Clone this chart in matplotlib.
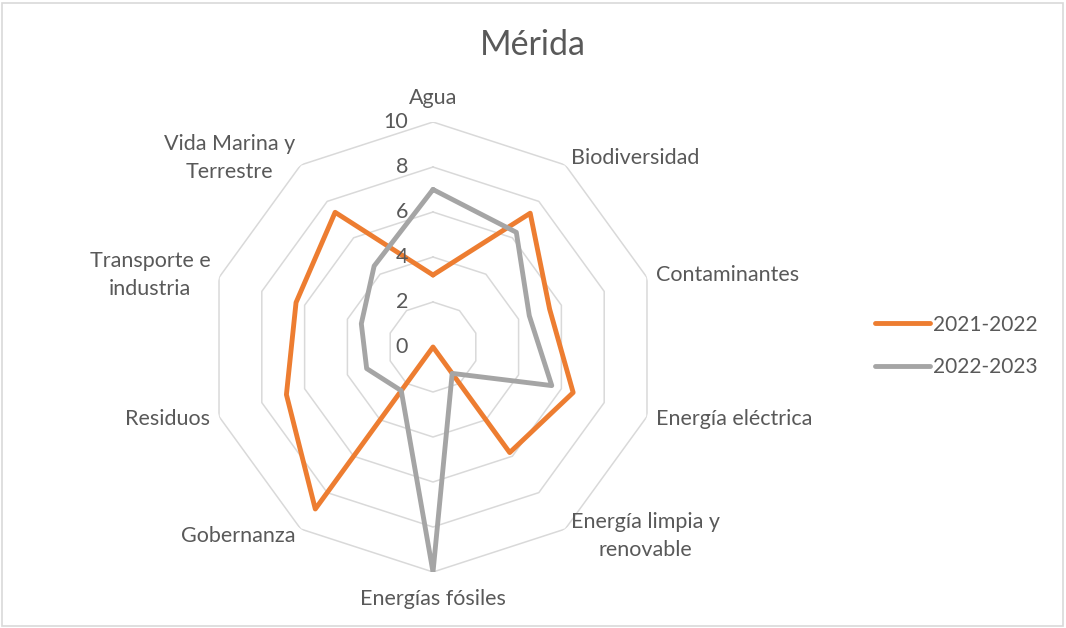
import numpy as np
import matplotlib
matplotlib.use("Agg")
import matplotlib.pyplot as plt
from matplotlib.lines import Line2D
from matplotlib.patches import Rectangle
import matplotlib.transforms as mtransforms

plt.rcParams['font.family'] = ['Lato', 'DejaVu Sans']

title = "Mérida"
categories = ["Agua", "Biodiversidad", "Contaminantes", "Energía eléctrica",
              "Energía limpia y\nrenovable", "Energías fósiles", "Gobernanza",
              "Residuos", "Transporte e\nindustria", "Vida Marina y\nTerrestre"]
series_names = ["2021-2022", "2022-2023"]
values_2021 = [3.2, 7.35, 5.45, 6.55, 5.8, 0.0, 8.9, 6.85, 6.4, 7.4]
values_2022 = [7.0, 6.3, 4.5, 5.55, 1.45, 10.0, 2.4, 3.1, 3.35, 4.45]
r_ticks = [0, 2, 4, 6, 8, 10]

ORANGE = "#ED7D31"
GRAY = "#A5A5A5"
TEXT = "#595959"
GRID = "#D9D9D9"
FS = 15.5

W, H = 1066, 628
fig = plt.figure(figsize=(W / 100, H / 100), dpi=100)
fig.patch.set_facecolor("white")

cx, cy, rad = 433, 347, 225
ax = fig.add_axes([(cx - rad) / W, 1 - (cy + rad) / H, 2 * rad / W, 2 * rad / H],
                  projection="polar")
ax.set_theta_zero_location("N")
ax.set_theta_direction(-1)
ax.set_ylim(0, 10)
ax.grid(False)
ax.set_xticks([])
ax.set_yticks([])
ax.spines["polar"].set_visible(False)
ax.patch.set_alpha(0)

n = len(categories)
theta = np.linspace(0, 2 * np.pi, n, endpoint=False)
theta_c = np.append(theta, theta[0])

# polygon grid rings
for v in r_ticks[1:]:
    ax.plot(theta_c, [v] * (n + 1), color=GRID, lw=1.1, zorder=1)

# series
for vals, col, name in [(values_2021, ORANGE, series_names[0]),
                        (values_2022, GRAY, series_names[1])]:
    vv = np.append(vals, vals[0])
    ax.plot(theta_c, vv, color=col, lw=3.5, solid_joinstyle="round",
            solid_capstyle="round", zorder=3, label=name)

# radial tick labels
off = mtransforms.offset_copy(ax.transData, fig=fig, x=-25, y=0, units="dots")
for v in r_ticks:
    ax.text(0, v, str(v), transform=off, ha="right", va="center",
            fontsize=FS, color=TEXT, zorder=4)

# category labels
for i, (t, lab) in enumerate(zip(theta, categories)):
    deg = np.degrees(t)
    if np.isclose(deg, 0):
        ax.text(t, 10.62, lab, ha="center", va="bottom", fontsize=FS, color=TEXT)
    elif np.isclose(deg, 180):
        ax.text(t, 10.75, lab, ha="center", va="top", fontsize=FS, color=TEXT)
    elif deg < 180:
        ax.text(t, 10.4, lab, ha="left", va="center", fontsize=FS, color=TEXT,
                multialignment="center", linespacing=1.5)
    else:
        ax.text(t, 10.4, lab, ha="right", va="center", fontsize=FS, color=TEXT,
                multialignment="center", linespacing=1.5)

fig.text(0.5, 1 - 45 / H, title, ha="center", va="center", fontsize=24.5, color=TEXT)

handles = [Line2D([], [], color=ORANGE, lw=3.5, solid_capstyle="round"),
           Line2D([], [], color=GRAY, lw=3.5, solid_capstyle="round")]
fig.legend(handles, series_names, loc="center left",
           bbox_to_anchor=(865 / W, 1 - 346 / H), frameon=False,
           fontsize=15, labelcolor=TEXT, handlelength=2.6, handletextpad=0.15,
           labelspacing=1.1, borderpad=0)

fig.patches.append(Rectangle((2 / W, 2 / H), (W - 5) / W, (H - 5) / H,
                             transform=fig.transFigure, fill=False,
                             edgecolor=GRID, lw=1.2))

fig.savefig("out.png", dpi=100, facecolor="white")
